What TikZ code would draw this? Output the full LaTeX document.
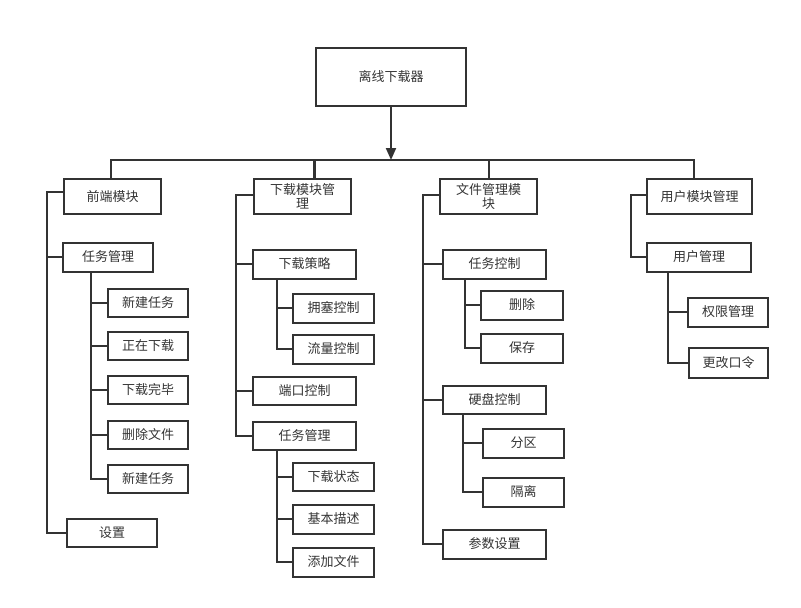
\documentclass[tikz,border=0pt]{standalone}
\usepackage{fontspec}
\setmainfont{Noto Sans CJK SC}
\usetikzlibrary{arrows.meta}
\definecolor{ink}{HTML}{333333}

\begin{document}
\begin{tikzpicture}[x=1pt,y=-1pt,>={Triangle[width=10pt,length=12pt]},
  box/.style={draw=ink,line width=2pt,inner sep=0pt,minimum height=29pt,
    text=ink,font=\fontsize{13}{14}\selectfont,align=center},
  link/.style={draw=ink,line width=2pt}]
  \useasboundingbox (0,0) rectangle (801,608);
  % Root and first level
  \node[box,minimum width=150pt,minimum height=58pt] (root) at (391,77) {离线下载器};
  \node[box,minimum width=97pt,minimum height=35pt] (qd) at (112.5,196.5) {前端模块};
  \node[box,minimum width=97pt,minimum height=35pt] (xz) at (302.5,196.5) {下载模块管\\理};
  \node[box,minimum width=97pt,minimum height=35pt] (wj) at (488.5,196.5) {文件管理模\\块};
  \node[box,minimum width=105pt,minimum height=35pt] (yh) at (699.5,196.5) {用户模块管理};
  \coordinate (bus) at (391,160);
  \draw[link,->] (root) -- (bus);
  \draw[link] ([xshift=-2pt]qd.north) |- (bus) -| ([xshift=-6pt]yh.north);
  \draw[link,line width=3.5pt] ([xshift=12pt]xz.north) -- ([xshift=12pt]xz.north |- bus);
  \draw[link] (wj.north) -- (wj.north |- bus);
  % Front end
  \node[box,minimum width=90pt] (rw) at (108,257) {任务管理};
  \node[box,minimum width=80pt,minimum height=28pt] (c1) at (148,303) {新建任务};
  \node[box,minimum width=80pt,minimum height=28pt] (c2) at (148,346) {正在下载};
  \node[box,minimum width=80pt,minimum height=28pt] (c3) at (148,390) {下载完毕};
  \node[box,minimum width=80pt,minimum height=28pt] (c4) at (148,435) {删除文件};
  \node[box,minimum width=80pt,minimum height=28pt] (c5) at (148,479) {新建任务};
  \node[box,minimum width=90pt,minimum height=28pt] (sz) at (112,533) {设置};
  \foreach \c in {rw,sz} \draw[link] ([yshift=5pt]qd.west) -- ++(-16,0) |- (\c.west);
  \foreach \c in {c1,c2,c3,c4,c5} \draw[link] ([xshift=29pt]rw.south west) |- (\c.west);
  % Download module
  \node[box,minimum width=103pt] (cl) at (304.5,264) {下载策略};
  \node[box,minimum width=81pt] (yk) at (333.5,308) {拥塞控制};
  \node[box,minimum width=81pt] (ll) at (333.5,349) {流量控制};
  \node[box,minimum width=103pt,minimum height=28pt] (dk) at (304.5,391) {端口控制};
  \node[box,minimum width=103pt,minimum height=28pt] (rg) at (304.5,436) {任务管理};
  \node[box,minimum width=81pt,minimum height=28pt] (zt) at (333.5,477) {下载状态};
  \node[box,minimum width=81pt] (ms) at (333.5,519) {基本描述};
  \node[box,minimum width=81pt] (tj) at (333.5,562) {添加文件};
  \foreach \c in {cl,dk,rg} \draw[link] ([yshift=2pt]xz.west) -- ++(-17,0) |- (\c.west);
  \foreach \c in {yk,ll} \draw[link] ([xshift=25pt]cl.south west) |- (\c.west);
  \foreach \c in {zt,ms,tj} \draw[link] ([xshift=25pt]rg.south west) |- (\c.west);
  % File module
  \node[box,minimum width=103pt] (rk) at (494.5,264) {任务控制};
  \node[box,minimum width=82pt] (sc) at (522,305) {删除};
  \node[box,minimum width=82pt] (bc) at (522,348) {保存};
  \node[box,minimum width=103pt,minimum height=28pt] (yp) at (494.5,400) {硬盘控制};
  \node[box,minimum width=81pt] (fq) at (523.5,443) {分区};
  \node[box,minimum width=81pt] (gl) at (523.5,492) {隔离};
  \node[box,minimum width=103pt] (cs) at (494.5,544) {参数设置};
  \foreach \c in {rk,yp,cs} \draw[link] ([yshift=2pt]wj.west) -- ++(-16,0) |- (\c.west);
  \foreach \c in {sc,bc} \draw[link] ([xshift=23pt]rk.south west) |- (\c.west);
  \foreach \c in {fq,gl} \draw[link] ([xshift=21pt]yp.south west) |- (\c.west);
  % User module
  \node[box,minimum width=104pt] (yg) at (699,257) {用户管理};
  \node[box,minimum width=80pt] (qx) at (728,312) {权限管理};
  \node[box,minimum width=79pt,minimum height=30pt] (gk) at (728.5,363) {更改口令};
  \draw[link] ([yshift=2pt]yh.west) -- ++(-15,0) |- (yg.west);
  \foreach \c in {qx,gk} \draw[link] ([xshift=22pt]yg.south west) |- (\c.west);
\end{tikzpicture}
\end{document}
